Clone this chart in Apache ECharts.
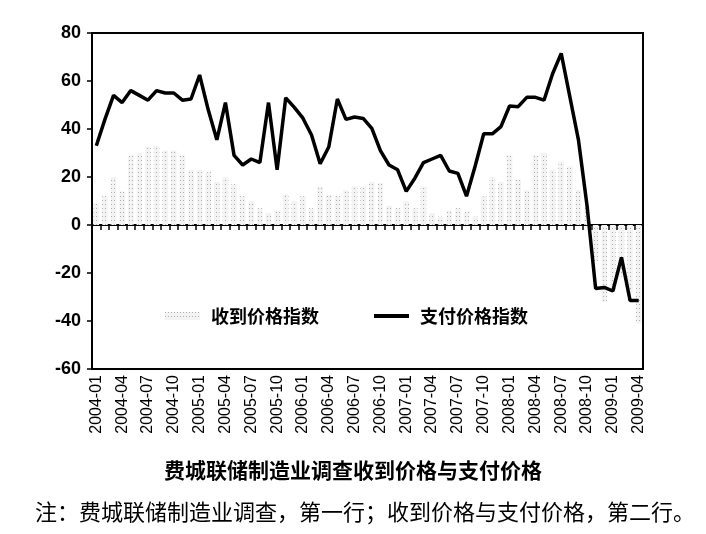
<!DOCTYPE html>
<html>
<head>
<meta charset="utf-8">
<script src="https://cdn.jsdelivr.net/npm/echarts@6/dist/echarts.min.js"></script>
<style>
html,body{margin:0;padding:0;background:#fff;}
#chart{width:706px;height:534px;}
</style>
</head>
<body>
<div id="chart"></div>
<script>
var months = [
 '2004-01','2004-02','2004-03','2004-04','2004-05','2004-06','2004-07','2004-08','2004-09','2004-10','2004-11','2004-12',
 '2005-01','2005-02','2005-03','2005-04','2005-05','2005-06','2005-07','2005-08','2005-09','2005-10','2005-11','2005-12',
 '2006-01','2006-02','2006-03','2006-04','2006-05','2006-06','2006-07','2006-08','2006-09','2006-10','2006-11','2006-12',
 '2007-01','2007-02','2007-03','2007-04','2007-05','2007-06','2007-07','2007-08','2007-09','2007-10','2007-11','2007-12',
 '2008-01','2008-02','2008-03','2008-04','2008-05','2008-06','2008-07','2008-08','2008-09','2008-10','2008-11','2008-12',
 '2009-01','2009-02','2009-03','2009-04'
];
var pricesReceived = [
 9,12,20,14,29,30,32.5,33,31,31,29,23,
 23,22,18,20,17,12,10,7,5,6,12.5,10,
 12,7,16,12.5,12,14.5,16,16,18,17.5,8,7,
 10,7,16,5,3.5,6,7,5.5,3.5,12,20,18,
 29,19,14.5,29,30,23,26.5,24.5,14.5,8,-15,-32,
 -27,-21.5,-28,-41
];
var pricesPaid = [
 33,44,54,51,56,54,52,56,55,55,52,52.5,
 62.5,48,35.5,51,29,25,27.5,26,51,23,53,49,
 44.5,37.5,25.5,32.5,52.5,44,45,44.4,40.3,31,25,23,
 14,19.5,26,27.5,29,22.5,21.5,12,24.5,38,38,41,
 49.6,49.3,53.2,53.2,52,63,71.5,53.5,35.5,8,-26.5,-26,
 -27.5,-13.5,-31.5,-31.5
];
var seriesNames = ['收到价格指数','支付价格指数'];
var yTicks = {min:-60, max:80, interval:20};
var chartTitle = '费城联储制造业调查收到价格与支付价格';
var noteText = '注：费城联储制造业调查，第一行；收到价格与支付价格，第二行。';

var chart = echarts.init(document.getElementById('chart'), null, {renderer:'canvas'});
chart.setOption({
  animation:false,
  backgroundColor:'#fff',
  title:[
    {text:chartTitle, left:'center', top:455,
     textStyle:{fontFamily:'Noto Sans CJK SC', fontWeight:'bold', fontSize:21, color:'#000'}},
    {text:noteText, left:30, top:496,
     textStyle:{fontFamily:'Noto Sans CJK SC', fontWeight:'normal', fontSize:22, color:'#000'}}
  ],
  legend:{
    left:160, top:302, itemGap:55, itemWidth:35, itemHeight:8,
    textStyle:{fontFamily:'Noto Sans CJK SC', fontWeight:'bold', fontSize:18, color:'#000', padding:[0,0,0,6]},
    data:[
      {name:seriesNames[0], icon:'rect'},
      {name:seriesNames[1], icon:'path://M0,0 L30,0 L30,3.5 L0,3.5 Z', itemStyle:{color:'#000'}}
    ]
  },
  grid:{left:92, right:63, top:33, bottom:165, show:true, borderColor:'#000', borderWidth:2, backgroundColor:'transparent'},
  xAxis:[
    {type:'category', data:months, boundaryGap:true, position:'bottom',
     axisLine:{show:false, onZero:false}, axisTick:{show:false},
     axisLabel:{interval:2, rotate:90, margin:6, fontFamily:'Liberation Sans', fontSize:16, color:'#000'},
     splitLine:{show:false}},
    {type:'category', data:months, boundaryGap:true, position:'top',
     axisLine:{show:true, onZero:true, lineStyle:{color:'#000', width:2}},
     axisTick:{show:true, inside:true, length:5, interval:0, lineStyle:{color:'#000', width:1.5}},
     axisLabel:{show:false}, splitLine:{show:false}}
  ],
  yAxis:{type:'value', min:yTicks.min, max:yTicks.max, interval:yTicks.interval,
    axisLine:{show:true, lineStyle:{color:'#000', width:2}},
    axisTick:{show:true, length:5, lineStyle:{color:'#000', width:1.5}},
    axisLabel:{fontFamily:'Liberation Sans', fontWeight:'bold', fontSize:18, color:'#000', margin:11},
    splitLine:{show:false}},
  series:[
    {name:seriesNames[0], type:'bar', data:pricesReceived, barWidth:'65%', xAxisIndex:0,
     itemStyle:{color:'#f3f3f3',
       decal:{symbol:'rect', symbolSize:1, color:'rgba(70,70,70,0.4)', dashArrayX:[1,2], dashArrayY:[1,3], rotation:0}}},
    {name:seriesNames[1], type:'line', data:pricesPaid, xAxisIndex:0, symbol:'none',
     lineStyle:{color:'#000', width:3.5}, itemStyle:{color:'#000'}, z:5}
  ]
});
</script>
</body>
</html>
